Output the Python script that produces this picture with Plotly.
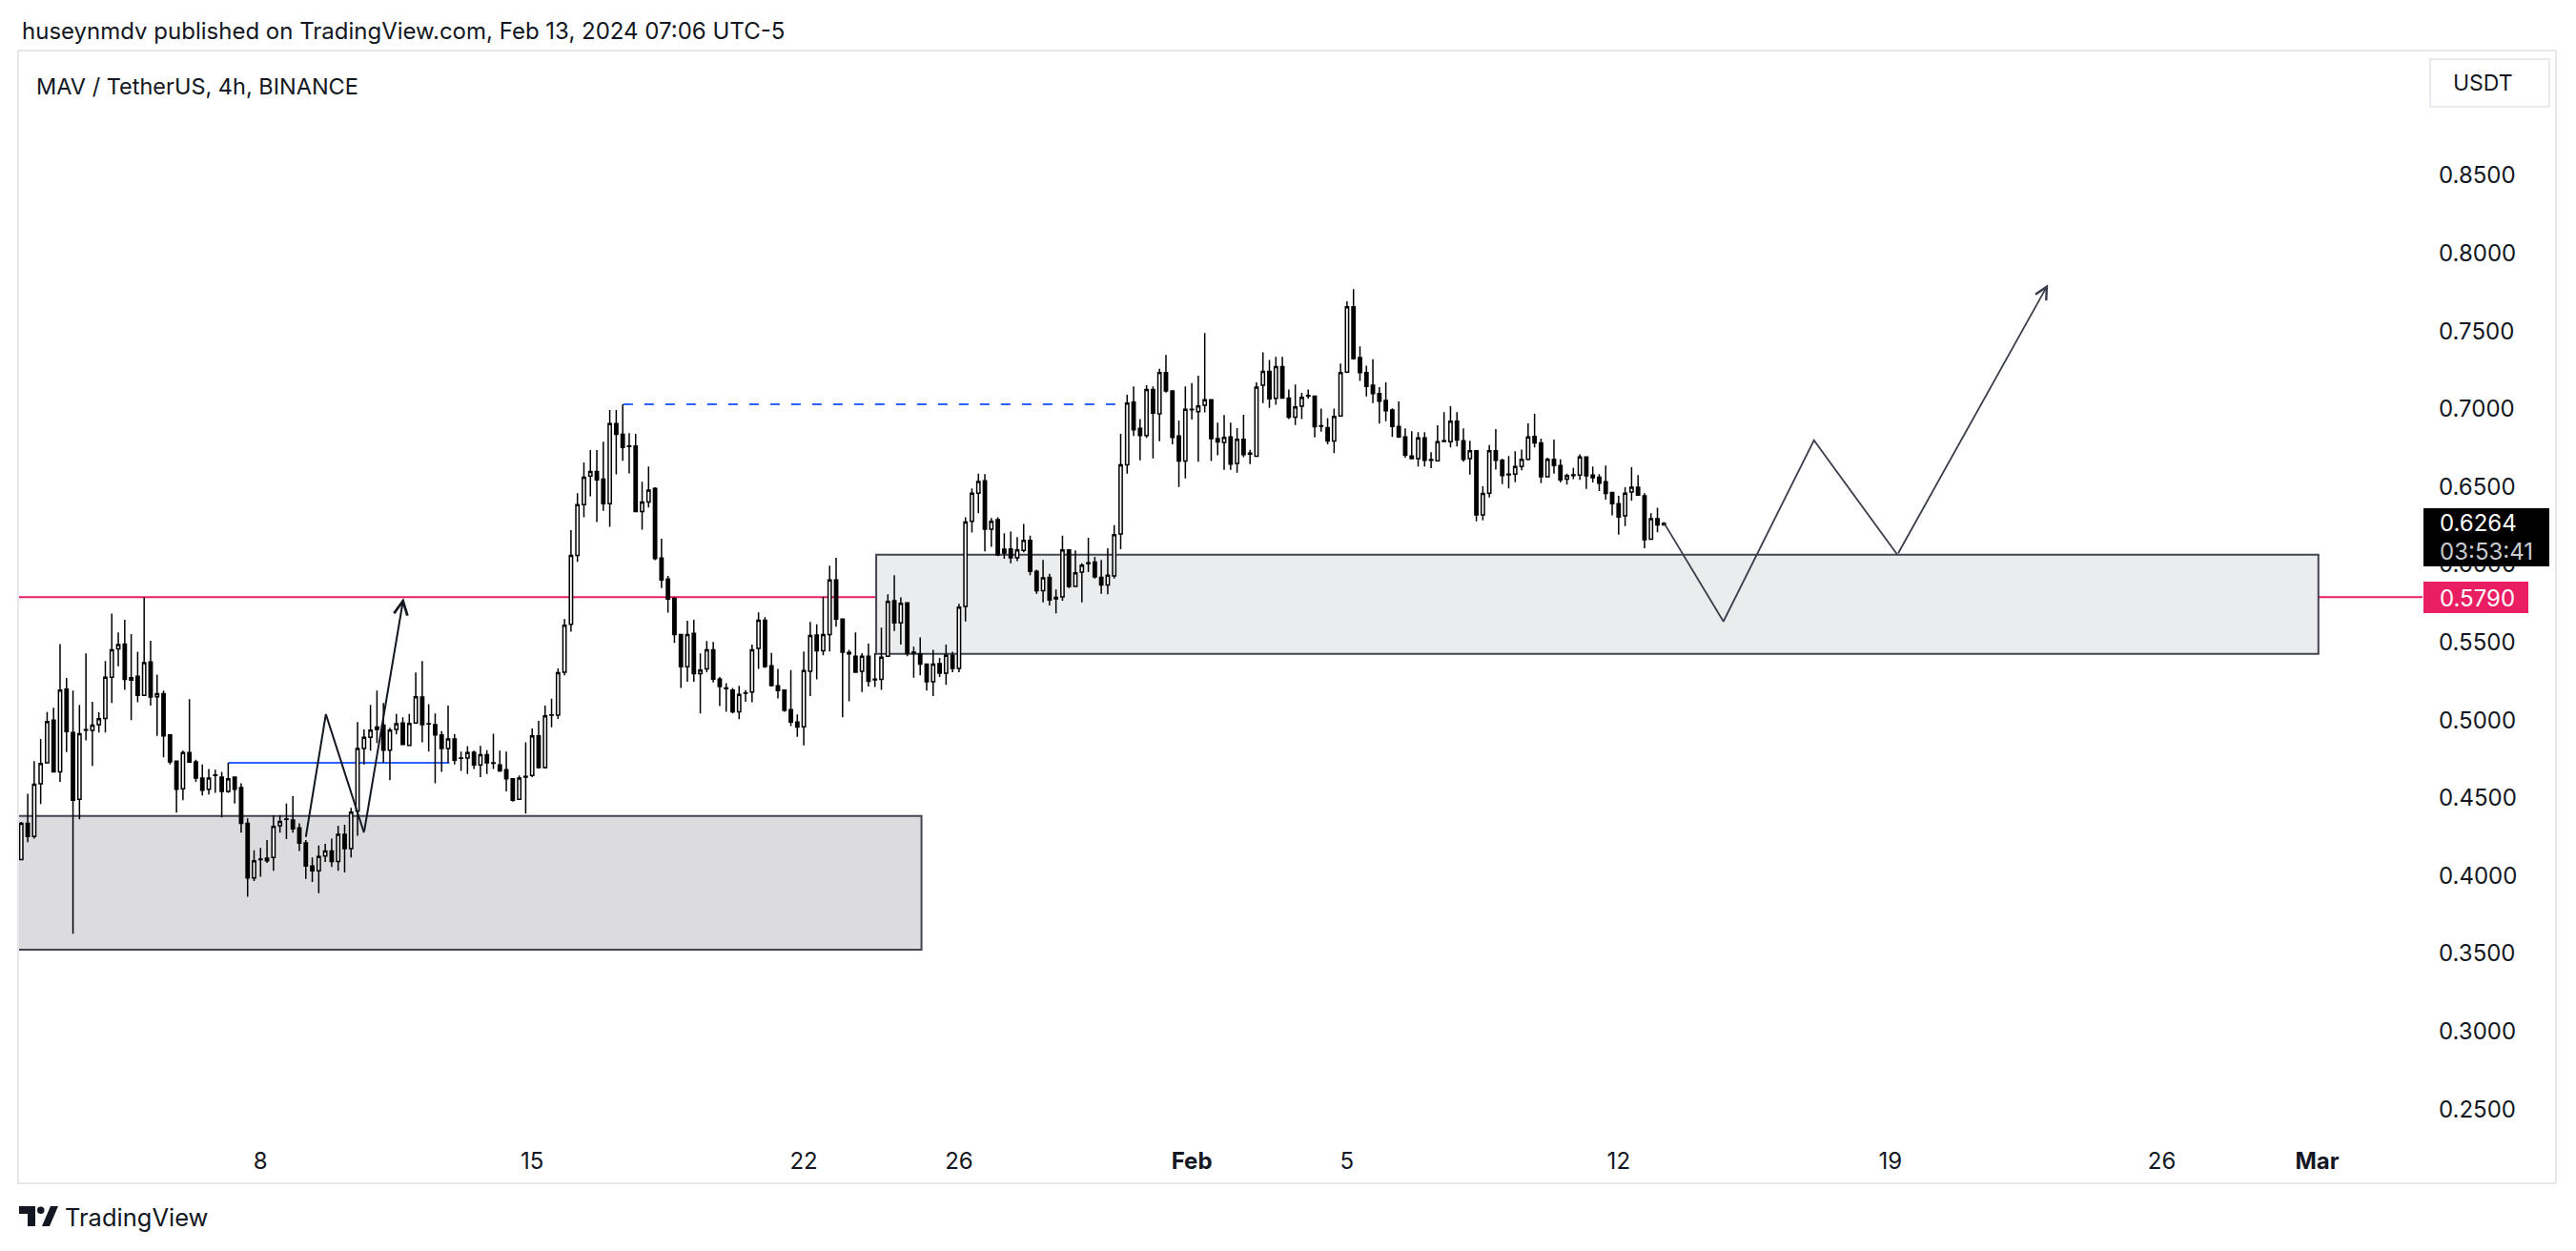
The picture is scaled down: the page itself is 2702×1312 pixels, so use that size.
import pandas as pd
import plotly.graph_objects as go

# ---------------- data (MAV/USDT 4h) ----------------
opens = [
    .4103, .4337, .4252, .4591, .4725, .4999, .4668, .5199, .4920, .4491,
    .4936, .4934, .4971, .5011, .5275, .5457, .5489, .5273, .5281, .5159,
    .5373, .5150, .5169, .4905, .4736, .4558, .4791, .4732, .4628, .4556,
    .4644, .4634, .4542, .4634, .4566, .4337, .3986, .4103, .4113, .4117,
    .4321, .4362, .4358, .4307, .4211, .4062, .4031, .4127, .4158, .4092,
    .4266, .4174, .4415, .4817, .4889, .4940, .4967, .4807, .4940, .4981,
    .4838, .4981, .5148, .4977, .4971, .4905, .4817, .4879, .4756, .4756,
    .4793, .4711, .4777, .4725, .4711, .4681, .4623, .4491, .4634, .4644,
    .4899, .4695, .5032, .5032, .5308, .5615, .6058, .6385, .6568, .6597,
    .6548, .6391, .6905, .6836, .6762, .6762, .6340, .6401, .6489, .6041,
    .5907, .5782, .5549, .5343, .5557, .5298, .5329, .5451, .5263, .5206,
    .5192, .5053, .5175, .5181, .5461, .5641, .5349, .5220, .5192, .5067,
    .4987, .4957, .5314, .5547, .5445, .5549, .5900, .5649, .5434, .5410,
    .5314, .5410, .5263, .5261, .5410, .5767, .5624, .5753, .5436, .5426,
    .5359, .5246, .5363, .5301, .5416, .5332, .5730, .6278, .6458, .6537,
    .6227, .6288, .6098, .6100, .6043, .6090, .6155, .5955, .5832, .5918,
    .5788, .5792, .6094, .5859, .5951, .6010, .6016, .5918, .5869, .5926,
    .6196, .6641, .7043, .6874, .6829, .7125, .6968, .7233, .7115, .6825,
    .6665, .6998, .6982, .7023, .7058, .6809, .6784, .6819, .6649, .6804,
    .6715, .6696, .7152, .7241, .7068, .7272, .7070, .6947, .7017, .7086,
    .7082, .6892, .6880, .6794, .6955, .7236, .7656, .7329, .7233, .7152,
    .7098, .7054, .6993, .6887, .6819, .6697, .6680, .6813, .6674, .6666,
    .6795, .6789, .6921, .6795, .6680, .6731, .6319, .6458, .6731, .6670,
    .6580, .6580, .6629, .6676, .6823, .6782, .6564, .6676, .6635, .6548,
    .6576, .6574, .6691, .6574, .6560, .6531, .6462, .6390, .6313, .6466,
    .6497, .6441, .6162, .6294, .6254,
]
highs = [
    .4345, .4527, .4736, .4879, .5052, .5079, .5489, .5271, .5189, .5097,
    .5428, .5118, .5050, .5379, .5685, .5563, .5645, .5553, .5440, .5788,
    .5510, .5293, .5189, .4909, .4740, .4803, .5134, .4746, .4715, .4685,
    .4681, .4668, .4725, .4638, .4593, .4368, .4164, .4178, .4229, .4389,
    .4389, .4464, .4511, .4337, .4229, .4117, .4194, .4205, .4239, .4321,
    .4327, .4436, .4987, .4940, .5097, .5189, .5110, .4950, .5040, .5018,
    .5040, .5306, .5379, .5103, .5042, .4930, .5093, .4909, .4797, .4832,
    .4803, .4834, .4807, .4913, .4803, .4797, .4628, .4644, .4858, .4946,
    .4995, .5093, .5138, .5332, .5649, .6221, .6458, .6656, .6736, .6736,
    .6789, .6993, .6993, .7030, .6844, .6840, .6532, .6630, .6497, .6166,
    .5927, .5788, .5553, .5639, .5645, .5429, .5508, .5502, .5277, .5237,
    .5206, .5220, .5192, .5486, .5692, .5662, .5431, .5329, .5195, .5322,
    .5036, .5441, .5631, .5615, .5792, .5992, .6043, .5652, .5451, .5563,
    .5430, .5491, .5430, .5594, .5808, .5931, .5788, .5756, .5471, .5532,
    .5362, .5451, .5399, .5485, .5440, .5747, .6304, .6488, .6584, .6580,
    .6298, .6304, .6200, .6212, .6176, .6261, .6186, .5967, .6029, .5941,
    .5839, .6186, .6096, .6090, .6008, .6172, .6049, .6029, .6104, .6253,
    .6839, .7090, .7145, .6935, .7152, .7145, .7258, .7346, .7118, .6925,
    .7145, .7166, .7213, .7487, .7061, .6911, .6960, .6911, .6876, .6962,
    .6737, .7170, .7364, .7315, .7335, .7335, .7125, .7156, .7103, .7125,
    .7085, .7002, .6941, .7002, .7292, .7691, .7769, .7401, .7278, .7319,
    .7139, .7170, .7003, .7048, .6874, .6856, .6850, .6850, .6721, .6895,
    .6979, .7017, .6979, .6874, .6795, .6734, .6503, .6768, .6870, .6680,
    .6697, .6727, .6738, .6907, .6968, .6809, .6687, .6803, .6676, .6584,
    .6621, .6707, .6694, .6629, .6580, .6635, .6466, .6441, .6497, .6625,
    .6574, .6458, .6329, .6364, .6272,
]
lows = [
    .4100, .4215, .4239, .4460, .4722, .4665, .4603, .4795, .3627, .4362,
    .4869, .4705, .4920, .4920, .5110, .5346, .5195, .4999, .5114, .5155,
    .5093, .4899, .4760, .4715, .4405, .4485, .4725, .4603, .4515, .4521,
    .4532, .4374, .4532, .4464, .4276, .3864, .3966, .3994, .4082, .4031,
    .4276, .4235, .4276, .4158, .3980, .3960, .3888, .4088, .4056, .4031,
    .4021, .4117, .4256, .4715, .4803, .4852, .4725, .4613, .4909, .4844,
    .4832, .4981, .4858, .4797, .4593, .4668, .4725, .4715, .4674, .4654,
    .4685, .4634, .4654, .4685, .4668, .4542, .4476, .4491, .4399, .4634,
    .4689, .4689, .4954, .5007, .5288, .5568, .6017, .6303, .6438, .6272,
    .6344, .6242, .6579, .6666, .6585, .6336, .6223, .6366, .6027, .5849,
    .5690, .5496, .5206, .5247, .5247, .5043, .5308, .5241, .5090, .5053,
    .5043, .5006, .5118, .5114, .5329, .5335, .5216, .5139, .5053, .4961,
    .4893, .4838, .5155, .5261, .5416, .5441, .5600, .5018, .5120, .5308,
    .5181, .5216, .5212, .5195, .5410, .5573, .5485, .5410, .5273, .5287,
    .5189, .5154, .5277, .5226, .5308, .5308, .5634, .6206, .6329, .6084,
    .6114, .6053, .6037, .6008, .6022, .6078, .5931, .5812, .5757, .5737,
    .5686, .5767, .5849, .5857, .5757, .5951, .5910, .5812, .5808, .5910,
    .6098, .6584, .6825, .6670, .6813, .6682, .6792, .7105, .6772, .6498,
    .6553, .6931, .6661, .6978, .6665, .6702, .6608, .6608, .6590, .6690,
    .6645, .6693, .7037, .7007, .7027, .7064, .6935, .6896, .6935, .7064,
    .6817, .6853, .6772, .6715, .6951, .7230, .7316, .7180, .7080, .7037,
    .6905, .6921, .6819, .6813, .6687, .6676, .6629, .6629, .6619, .6662,
    .6789, .6752, .6758, .6660, .6578, .6278, .6284, .6431, .6609, .6517,
    .6488, .6529, .6605, .6670, .6752, .6523, .6560, .6584, .6527, .6513,
    .6548, .6544, .6486, .6527, .6472, .6417, .6315, .6192, .6247, .6411,
    .6441, .6104, .6162, .6207, .6250,
]
closes = [
    .4337, .4252, .4587, .4721, .4991, .4668, .5193, .4926, .4485, .4913,
    .4938, .4967, .5009, .5275, .5451, .5485, .5261, .5257, .5159, .5369,
    .5148, .5169, .4899, .4732, .4556, .4791, .4730, .4628, .4550, .4628,
    .4648, .4542, .4623, .4556, .4337, .3986, .4096, .4107, .4096, .4317,
    .4348, .4364, .4301, .4209, .4062, .4031, .4123, .4158, .4092, .4266,
    .4174, .4409, .4817, .4889, .4936, .4956, .4807, .4936, .4977, .4844,
    .4979, .5150, .4971, .4975, .4905, .4817, .4879, .4742, .4754, .4791,
    .4711, .4777, .4725, .4723, .4674, .4623, .4485, .4628, .4638, .4899,
    .4695, .5028, .5034, .5304, .5610, .6058, .6385, .6560, .6597, .6544,
    .6391, .6905, .6836, .6752, .6758, .6340, .6401, .6478, .6039, .5900,
    .5778, .5549, .5343, .5549, .5298, .5322, .5451, .5263, .5216, .5202,
    .5053, .5165, .5173, .5451, .5641, .5345, .5222, .5190, .5063, .4987,
    .4955, .5318, .5543, .5445, .5549, .5900, .5649, .5436, .5426, .5308,
    .5410, .5250, .5259, .5404, .5763, .5624, .5751, .5430, .5432, .5359,
    .5246, .5359, .5301, .5416, .5332, .5726, .6272, .6458, .6533, .6227,
    .6278, .6063, .6074, .6043, .6094, .6155, .5955, .5832, .5914, .5771,
    .5779, .6094, .5859, .5947, .5996, .6006, .5920, .5869, .5931, .6192,
    .6641, .7037, .6866, .6829, .7125, .6972, .7233, .7115, .6817, .6665,
    .6998, .6994, .7019, .7058, .6809, .6788, .6817, .6645, .6804, .6706,
    .6710, .7139, .7241, .7064, .7272, .7070, .6947, .7013, .7074, .7082,
    .6886, .6888, .6794, .6951, .7233, .7656, .7324, .7233, .7145, .7098,
    .7049, .6988, .6887, .6819, .6703, .6680, .6813, .6670, .6670, .6789,
    .6791, .6921, .6799, .6676, .6731, .6319, .6456, .6731, .6670, .6572,
    .6576, .6629, .6676, .6819, .6782, .6564, .6676, .6635, .6544, .6572,
    .6572, .6691, .6570, .6558, .6523, .6456, .6390, .6305, .6458, .6497,
    .6446, .6160, .6294, .6254, .6264,
]

bar_start = "2024-01-01 23:00"      # first 4h bar, chart time zone UTC-5
bar_hours = 4

date_tick_days = ["2024-01-08", "2024-01-15", "2024-01-22", "2024-01-26", "2024-02-01",
                  "2024-02-05", "2024-02-12", "2024-02-19", "2024-02-26", "2024-03-01"]
date_tick_labels = ["8", "15", "22", "26", "<b>Feb</b>", "5", "12", "19", "26", "<b>Mar</b>"]
price_ticks = [0.25, 0.30, 0.35, 0.40, 0.45, 0.50, 0.55, 0.60, 0.65, 0.70, 0.75, 0.80, 0.85]

last_price = 0.6264
bar_countdown = "03:53:41"
level_price = 0.5790

header_text = "huseynmdv published on TradingView.com, Feb 13, 2024 07:06 UTC-5"
symbol_text = "MAV / TetherUS, 4h, BINANCE"
currency_text = "USDT"

# drawing anchors: (bar index, price)
lower_zone_bars, lower_zone_prices = [-3.0, 139.2], [0.3525, 0.4384]
upper_zone_bars, upper_zone_prices = [132.2, 355.2], [0.5426, 0.6063]
blue_level_bars, blue_level_price = [32.0, 66.2], 0.4726
prev_high_bars, prev_high_price = [93.1, 169.7], 0.7030
left_path_bars = [44.0, 47.1, 53.0, 59.1]
left_path_prices = [0.4249, 0.5038, 0.4277, 0.5784]
right_path_bars = [254.1, 263.2, 277.2, 290.1, 313.4]
right_path_prices = [0.6261, 0.5634, 0.6798, 0.6063, 0.7800]

# ---------------- layout geometry ----------------
FIG_W, FIG_H = 2702, 1312
PL, PR, PT, PB = 20, 2541, 53, 1190
FONT = "Inter, Roboto, 'Noto Sans', sans-serif"
INK = "#131722"

t0 = pd.Timestamp(bar_start)
times = pd.date_range(t0, periods=len(opens), freq=f"{bar_hours}h")


def bt(k):
    return t0 + pd.Timedelta(hours=bar_hours * k)


def pxx(x):
    return (x - PL) / (PR - PL)


def pxy(y):
    return (PB - y) / (PB - PT)


x_range = [bt(-0.34), bt(371.3)]
y_range = [0.23358, 0.93027]

fig = go.Figure()

fig.add_trace(go.Candlestick(
    x=times, open=opens, high=highs, low=lows, close=closes,
    increasing=dict(line=dict(color="#000000", width=1.5), fillcolor="#ffffff"),
    decreasing=dict(line=dict(color="#000000", width=1.5), fillcolor="#000000"),
    whiskerwidth=0, hoverinfo="skip", showlegend=False,
))

fig.add_trace(go.Scatter(
    x=[bt(k) for k in left_path_bars[:-1]], y=left_path_prices[:-1],
    mode="lines", line=dict(color="#131722", width=2), hoverinfo="skip", showlegend=False,
))
fig.add_trace(go.Scatter(
    x=[bt(k) for k in right_path_bars[:-1]], y=right_path_prices[:-1],
    mode="lines", line=dict(color="#3a3e4a", width=1.8), hoverinfo="skip", showlegend=False,
))

shapes = []
# frame
shapes.append(dict(type="rect", xref="paper", yref="paper",
                   x0=pxx(19), x1=pxx(2681), y0=pxy(1241), y1=pxy(53),
                   line=dict(color="#e6e8ee", width=2), fillcolor="rgba(0,0,0,0)", layer="below"))
# zones
shapes.append(dict(type="rect", xref="x", yref="y",
                   x0=bt(lower_zone_bars[0]), x1=bt(lower_zone_bars[1]),
                   y0=lower_zone_prices[0], y1=lower_zone_prices[1],
                   fillcolor="#dcdcdf", line=dict(color="#434651", width=2), layer="below"))
shapes.append(dict(type="rect", xref="x", yref="y",
                   x0=bt(upper_zone_bars[0]), x1=bt(upper_zone_bars[1]),
                   y0=upper_zone_prices[0], y1=upper_zone_prices[1],
                   fillcolor="#ebecee", line=dict(color="#434651", width=2), layer="below"))
# red level
shapes.append(dict(type="line", xref="paper", yref="y", x0=0, x1=1,
                   y0=level_price, y1=level_price,
                   line=dict(color="#e91e63", width=2), layer="below"))
# blue lines
shapes.append(dict(type="line", xref="x", yref="y",
                   x0=bt(blue_level_bars[0]), x1=bt(blue_level_bars[1]),
                   y0=blue_level_price, y1=blue_level_price,
                   line=dict(color="#2962ff", width=2), layer="below"))
shapes.append(dict(type="line", xref="x", yref="y",
                   x0=bt(prev_high_bars[0]), x1=bt(prev_high_bars[1]),
                   y0=prev_high_price, y1=prev_high_price,
                   line=dict(color="#2962ff", width=2, dash="10px,12px"), layer="below"))
# USDT box
shapes.append(dict(type="rect", xref="paper", yref="paper",
                   x0=pxx(2549), x1=pxx(2674), y0=pxy(112), y1=pxy(62),
                   line=dict(color="#e0e3eb", width=1.5), fillcolor="#ffffff", layer="above"))
# price label boxes
shapes.append(dict(type="rect", xref="paper", yref="paper",
                   x0=pxx(2542), x1=pxx(2674), y0=pxy(594), y1=pxy(533),
                   line=dict(width=0), fillcolor="#000000", layer="above"))
shapes.append(dict(type="rect", xref="paper", yref="paper",
                   x0=pxx(2542), x1=pxx(2652), y0=pxy(643), y1=pxy(610),
                   line=dict(width=0), fillcolor="#e91e63", layer="above"))
# TradingView logo mark
shapes.append(dict(type="path", xref="paper", yref="paper", layer="above",
                   path=("M {a},{b} L {c},{b} L {c},{d} L {e},{d} L {e},{f} L {a},{f} Z").format(
                       a=pxx(20), b=pxy(1265), c=pxx(37), d=pxy(1286), e=pxx(29), f=pxy(1273)),
                   fillcolor=INK, line=dict(width=0)))
shapes.append(dict(type="circle", xref="paper", yref="paper", layer="above",
                   x0=pxx(39), x1=pxx(46.5), y0=pxy(1273), y1=pxy(1265.5),
                   fillcolor=INK, line=dict(width=0)))
shapes.append(dict(type="path", xref="paper", yref="paper", layer="above",
                   path=("M {a},{b} L {c},{b} L {d},{e} L {f},{e} Z").format(
                       a=pxx(44), b=pxy(1286), c=pxx(52), d=pxx(61), e=pxy(1265), f=pxx(53)),
                   fillcolor=INK, line=dict(width=0)))

annotations = []


def txt(x, y, s, size, color=INK, xanchor="left"):
    annotations.append(dict(xref="paper", yref="paper", x=pxx(x), y=pxy(y), text=s,
                            showarrow=False, xanchor=xanchor, yanchor="middle",
                            font=dict(family=FONT, size=size, color=color)))


txt(21, 33, header_text, 24)
txt(36, 90, symbol_text, 23.5)
txt(2604, 87, currency_text, 23, xanchor="center")
txt(2557, 548, f"{last_price:.4f}", 24, color="#ffffff")
txt(2557, 578, bar_countdown, 24, color="#c8cad0")
txt(2557, 627, f"{level_price:.4f}", 24, color="#ffffff")
txt(66, 1276, "TradingView", 25.5)

# arrowheads on the last leg of each path
for bars, prices, col, w in [(left_path_bars, left_path_prices, "#131722", 2),
                             (right_path_bars, right_path_prices, "#3a3e4a", 1.8)]:
    annotations.append(dict(x=bt(bars[-1]), y=prices[-1], ax=bt(bars[-2]), ay=prices[-2],
                            xref="x", yref="y", axref="x", ayref="y", text="",
                            showarrow=True, arrowhead=5, arrowsize=1.4, arrowwidth=w,
                            arrowcolor=col))

fig.update_layout(
    width=FIG_W, height=FIG_H,
    margin=dict(l=PL, r=FIG_W - PR, t=PT, b=FIG_H - PB, pad=0),
    paper_bgcolor="#ffffff", plot_bgcolor="#ffffff",
    font=dict(family=FONT, color=INK),
    shapes=shapes, annotations=annotations,
    showlegend=False, hovermode=False,
    xaxis=dict(type="date", range=x_range, rangeslider=dict(visible=False),
               showgrid=False, zeroline=False, showline=False, ticks="",
               tickvals=[pd.Timestamp(d) + pd.Timedelta(hours=3) for d in date_tick_days],
               ticktext=date_tick_labels, tickfont=dict(family=FONT, size=24, color=INK),
               ticklabelstandoff=11, fixedrange=True),
    yaxis=dict(side="right", range=y_range, showgrid=False, zeroline=False, showline=False,
               ticks="", tickvals=price_ticks, ticktext=[f"{v:.4f}" for v in price_ticks],
               tickfont=dict(family=FONT, size=24, color=INK), ticklabelstandoff=16,
               fixedrange=True),
)

fig.write_html("out.html", config={"displayModeBar": False})
